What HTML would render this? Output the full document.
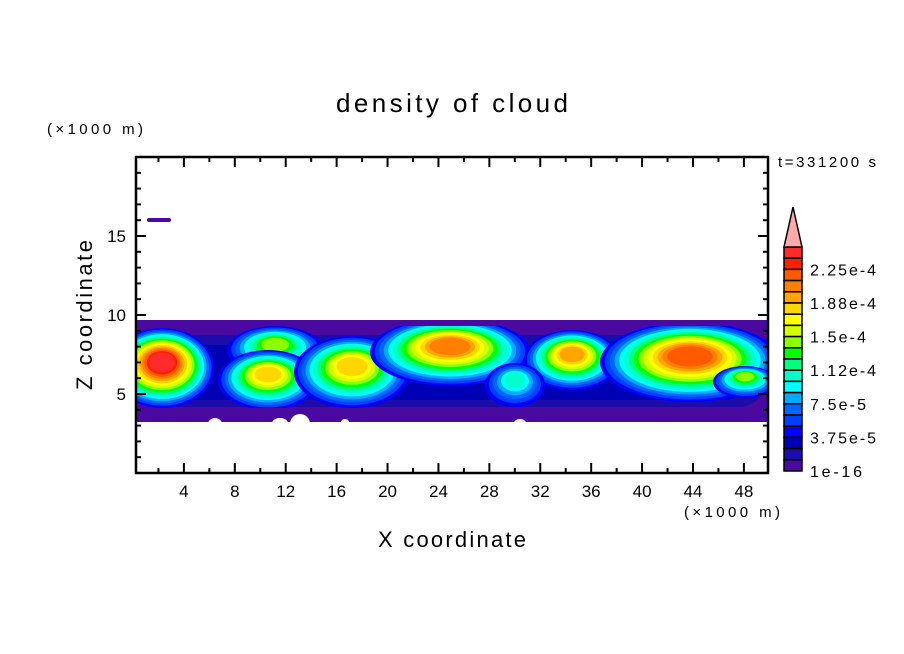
<!DOCTYPE html>
<html><head><meta charset="utf-8"><style>
body{margin:0;background:#fff;}
svg{display:block;font-family:"Liberation Sans",sans-serif;}
</style></head><body>
<svg id="s" width="904" height="654" viewBox="0 0 904 654" xmlns="http://www.w3.org/2000/svg">
<defs><clipPath id="c"><rect x="136" y="320" width="632" height="102"/></clipPath></defs>
<rect width="904" height="654" fill="#fff"/>
<g id="band" clip-path="url(#c)">
<rect x="136" y="320" width="632" height="102" fill="#4a0aa0"/>
</g>
<rect x="147" y="218" width="24" height="4" rx="2" fill="#4a0aa0"/>
<g id="ax" stroke="#000" stroke-width="2" fill="none"></g>
<rect x="136" y="157" width="632" height="316" fill="none" stroke="#000" stroke-width="2.5"/>
<text x="336" y="112" font-size="26" textLength="232" lengthAdjust="spacing">density of cloud</text>
<text x="47" y="134" font-size="15" textLength="96" lengthAdjust="spacing">(×1000 m)</text>
<text x="684" y="517" font-size="15" textLength="96" lengthAdjust="spacing">(×1000 m)</text>
<text x="778" y="167" font-size="15" textLength="98" lengthAdjust="spacing">t=331200 s</text>
<text x="378" y="547" font-size="22" textLength="148" lengthAdjust="spacing">X coordinate</text>
<text transform="translate(92,390) rotate(-90)" font-size="22" textLength="150" lengthAdjust="spacing">Z coordinate</text>
<g id="ticks" font-size="16"></g>
<g id="cb"></g>
</svg>
<script>
var NS="http://www.w3.org/2000/svg";
function el(p,t,a,txt){var e=document.createElementNS(NS,t);for(var k in a)e.setAttribute(k,a[k]);if(txt)e.textContent=txt;document.getElementById(p).appendChild(e);return e;}
var pal=["#4a0aa0","#1c0caa","#0000b4","#0000ff","#0040ff","#0064ff","#00aaff","#00ffff","#00ffcc","#00ff80","#00ff00","#8cff00","#d4ff00","#ffff00","#ffd700","#ffa500","#ff7f00","#ff5a00","#ff2000","#ff2a2a"];
el("band","rect",{x:136,y:335,width:632,height:72,fill:"#1c0caa",rx:30});
el("band","rect",{x:150,y:345,width:600,height:55,fill:"#0000b4",rx:25});
var blobs=[[162,368,52,40,19],[275,350,48,24,11],[268,380,50,30,14],[352,372,58,36,14],[450,352,80,34,16],[572,360,48,30,15],[515,385,30,22,8],[690,362,90,40,17],[745,382,32,16,11]];
blobs.forEach(function(b){
 for(var i=3;i<=b[4];i++){var f=1-(i-3)/(b[4]-2);
  el("band","ellipse",{cx:b[0],cy:b[1]-(1-f)*6,rx:b[2]*(0.2+0.8*f),ry:b[3]*(0.2+0.8*f),fill:pal[i]});}
});
el("band","rect",{x:136,y:408,width:632,height:14,fill:"#4a0aa0"});
el("band","rect",{x:136,y:318,width:632,height:8,fill:"#4a0aa0"});
[[280,423,8,5],[300,424,10,10],[520,423,6,4],[215,424,7,6],[345,422,4,3]].forEach(function(w){el("band","ellipse",{cx:w[0],cy:w[1],rx:w[2],ry:w[3],fill:"#fff"});});
function X(v){return 133+12.727*v;} function Y(v){return 473-15.8*v;}
for(var v=2;v<=48;v+=2){var L=v%4==0?10:5;
 el("ax","line",{x1:X(v),y1:473,x2:X(v),y2:473-L});el("ax","line",{x1:X(v),y1:157,x2:X(v),y2:157+L});
 if(v%4==0)el("ticks","text",{x:X(v),y:497,"text-anchor":"middle","font-size":17},String(v));}
for(var v=1;v<20;v++){var L=v%5==0?10:5;
 el("ax","line",{x1:136,y1:Y(v),x2:136+L,y2:Y(v)});el("ax","line",{x1:768,y1:Y(v),x2:768-L,y2:Y(v)});
 if(v%5==0)el("ticks","text",{x:126,y:Y(v)+6,"text-anchor":"end","font-size":17},String(v));}
var cbTop=247,h=11.2;
for(var i=0;i<20;i++){el("cb","rect",{x:784,y:cbTop+i*h,width:18,height:h,fill:pal[19-i],stroke:"#000","stroke-width":1.5});}
el("cb","polygon",{points:"784,247 802,247 793,207",fill:"#ffaaaa",stroke:"#000","stroke-width":1.5});
var labs=["2.25e-4","1.88e-4","1.5e-4","1.12e-4","7.5e-5","3.75e-5","1e-16"];
var lw=[66,66,56,66,56,66,52];
for(var j=0;j<7;j++){el("cb","text",{x:810,y:cbTop+(2+3*j)*h+6,"font-size":16,textLength:lw[j],lengthAdjust:"spacing"},labs[j]);}
</script>
</body></html>
